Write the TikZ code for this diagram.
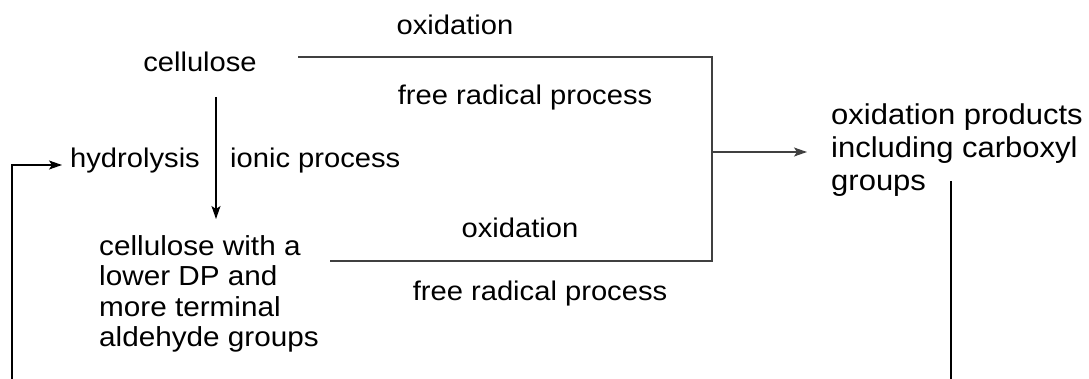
\documentclass[tikz,border=0pt]{standalone}
\usepackage{fontspec}
\setmainfont{Liberation Sans}[FakeStretch=1.08]
\usetikzlibrary{arrows.meta}
\begin{document}
\begin{tikzpicture}[x=1pt,y=-1pt,
  lbl/.style={inner sep=0pt,font=\fontsize{27}{30}\selectfont},
  big/.style={inner sep=0pt,font=\fontsize{28.7}{33}\selectfont,align=left},
  blk/.style={inner sep=0pt,font=\fontsize{27.5}{30.5}\selectfont,align=left},
  ln/.style={line width=1.3pt,draw=black!75},
  arr/.style={line width=1.3pt,-{Stealth[length=13pt,width=9pt,inset=3pt]}}]
\useasboundingbox (0,0) rectangle (1089,379);
% texts
\node[lbl,anchor=base] (oxt) at (455,35) {oxidation};
\node[lbl,anchor=base] (cel) at (200,72) {cellulose};
\node[lbl,anchor=base] (frt) at (525,105) {free radical process};
\node[lbl,anchor=base west] (hyd) at (70,168) {hydrolysis};
\node[lbl,anchor=base west] (ion) at (230,168) {ionic process};
\node[blk,anchor=north west] (low) at (99,235) {cellulose with a\\lower DP and\\more terminal\\aldehyde groups};
\node[lbl,anchor=base] (oxb) at (520,238) {oxidation};
\node[lbl,anchor=base] (frb) at (540,301) {free radical process};
\node[big,anchor=north west] (prod) at (831,104) {oxidation products\\including carboxyl\\groups};
% coordinates
\coordinate (tl) at (298,57);
\coordinate (tr) at (712,57);
\coordinate (br) at (712,261);
\coordinate (bl) at (330,261);
\coordinate (mid) at (712,152);
\coordinate (ptip) at (807,152);
\coordinate (dtop) at (216,97);
\coordinate (dtip) at (216,219);
\coordinate (lb) at (12,379);
\coordinate (lt) at (12,165);
\coordinate (htip) at (62,165);
\coordinate (rt) at (951,181);
\coordinate (rb) at (951,379);
% connectors
\draw[ln] (tl) -- (tr) -- (br) -- (bl);
\draw[arr,draw=black!75] (mid) -- (ptip);
\draw[arr] (dtop) -- (dtip);
\draw[arr] (lb) -- (lt) -- (htip);
\draw[line width=1.3pt] (rt) -- (rb);
\end{tikzpicture}
\end{document}
